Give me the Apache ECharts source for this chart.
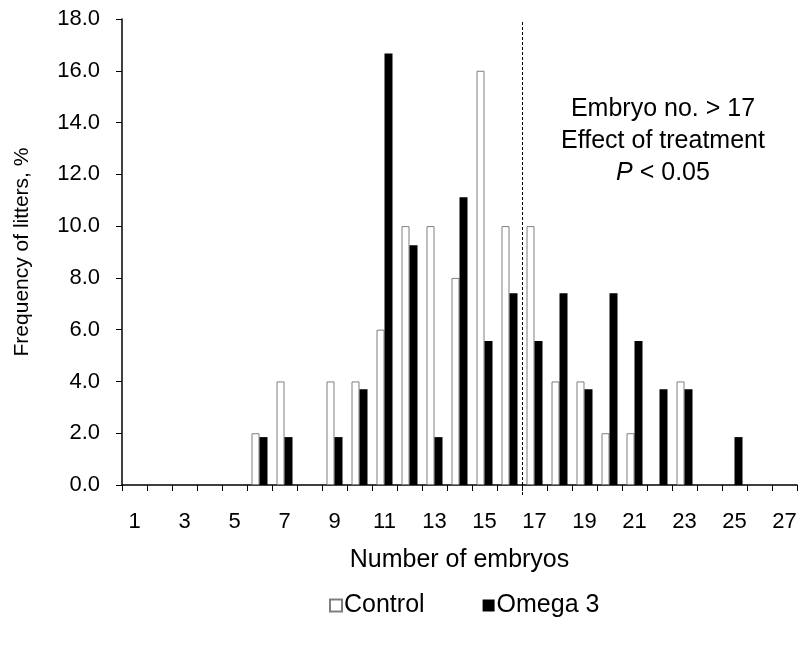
<!DOCTYPE html>
<html>
<head>
<meta charset="utf-8">
<script src="https://cdn.jsdelivr.net/npm/echarts@6/dist/echarts.min.js"></script>
<style>html,body{margin:0;padding:0;background:#fff;}#c{width:800px;height:646px;}</style>
</head>
<body>
<div id="c"></div>
<script>
const categories = ['1','2','3','4','5','6','7','8','9','10','11','12','13','14','15','16','17','18','19','20','21','22','23','24','25','26','27'];
const controlValues = [0,0,0,0,0,2,4,0,4,4,6,10,10,8,16,10,10,4,4,2,2,0,4,0,0,0,0];
const omegaValues = [0,0,0,0,0,1.85,1.85,0,1.85,3.70,16.67,9.26,1.85,11.11,5.56,7.41,5.56,7.41,3.70,7.41,5.56,3.70,3.70,0,1.85,0,0];
const yTicks = [0,2,4,6,8,10,12,14,16,18];
const seriesNames = ['Control','Omega 3'];
const cutoffBetween = ['16','17'];
const noteLines = ['Embryo no. > 17','Effect of treatment'];

const FONT = '"Liberation Sans", Arial, Helvetica, sans-serif';
const nz = arr => arr.map(v => v === 0 ? null : v);
const chart = echarts.init(document.getElementById('c'), null, {renderer:'canvas'});
const option = {
  animation:false,
  backgroundColor:'#fff',
  grid:{left:122,right:3,top:19,bottom:161,containLabel:false},
  legend:{
    data:seriesNames, left:324, top:588, itemWidth:12, itemHeight:12, itemGap:58, icon:'rect',
    textStyle:{fontFamily:FONT,fontSize:25,color:'#000',padding:[0,0,0,-3]}
  },
  xAxis:{
    type:'category', data:categories, name:'Number of embryos', nameLocation:'middle', nameGap:63,
    nameTextStyle:{fontFamily:FONT,fontSize:25,color:'#000'},
    axisLine:{lineStyle:{color:'#000',width:1.5}},
    axisTick:{show:true,interval:0,length:6,inside:false,lineStyle:{color:'#000',width:1}},
    axisLabel:{interval:1,margin:26,fontFamily:FONT,fontSize:22,color:'#000'},
    splitLine:{show:false}
  },
  yAxis:{
    type:'value', min:yTicks[0], max:yTicks[yTicks.length-1], interval:2,
    name:'Frequency of litters, %', nameLocation:'middle', nameGap:89,
    nameTextStyle:{fontFamily:FONT,fontSize:21,color:'#000'},
    axisLine:{show:true,lineStyle:{color:'#000',width:1.5}},
    axisTick:{show:true,length:6,lineStyle:{color:'#000'}},
    axisLabel:{margin:22,fontFamily:FONT,fontSize:22,color:'#000',formatter:v=>v.toFixed(1)},
    splitLine:{show:false}
  },
  series:[
    {name:seriesNames[0],type:'bar',data:nz(controlValues),barWidth:8,barGap:'0%',
     itemStyle:{color:'#fff',borderColor:'#7f7f7f',borderWidth:1}},
    {name:seriesNames[1],type:'bar',data:nz(omegaValues),barWidth:8,barGap:'0%',
     itemStyle:{color:'#000'}}
  ]
};
chart.setOption(option);

const xa = chart.convertToPixel({xAxisIndex:0}, cutoffBetween[0]);
const xb = chart.convertToPixel({xAxisIndex:0}, cutoffBetween[1]);
const lineX = Math.round((xa+xb)/2)+0.5;
const yTop = chart.convertToPixel({yAxisIndex:0}, 18);
const yZero = chart.convertToPixel({yAxisIndex:0}, 0);
chart.setOption({
  graphic:[
    {type:'line',shape:{x1:lineX,y1:yTop+3,x2:lineX,y2:yZero+11},
     style:{stroke:'#000',lineWidth:1,lineDash:[3,2]},z:10},
    {type:'text',x:663,y:109,
     style:{text:noteLines[0],font:'25px '+FONT,fill:'#000',align:'center',verticalAlign:'middle'}},
    {type:'text',x:663,y:141,
     style:{text:noteLines[1],font:'25px '+FONT,fill:'#000',align:'center',verticalAlign:'middle'}},
    {type:'text',x:663,y:173,
     style:{text:'{i|P} < 0.05',fill:'#000',align:'center',verticalAlign:'middle',
       font:'25px '+FONT,
       rich:{i:{fontStyle:'italic',fontFamily:FONT,fontSize:25,fill:'#000'}}}}
  ]
});
</script>
</body>
</html>
